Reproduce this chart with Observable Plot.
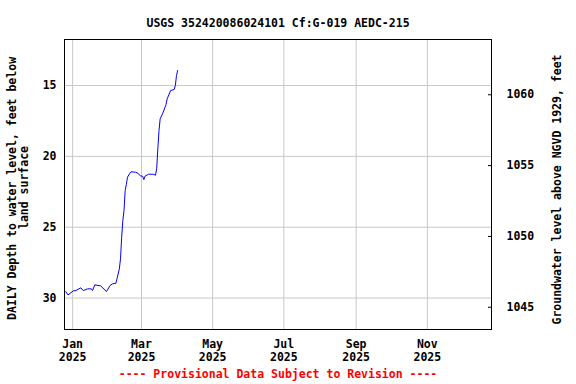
<!DOCTYPE html>
<html>
<head>
<meta charset="utf-8">
<script src="https://cdn.jsdelivr.net/npm/d3@7"></script>
<script src="https://cdn.jsdelivr.net/npm/@observablehq/plot@0.6"></script>
<style>
  html, body { margin: 0; padding: 0; background: #fff; }
</style>
</head>
<body>
<div id="chart"></div>
<script>
// ---- data ----
const title = "USGS 352420086024101 Cf:G-019 AEDC-215";
const leftLabel1 = "DAILY Depth to water level, feet below";
const leftLabel2 = "land surface";
const rightLabel = "Groundwater level above NGVD 1929, feet";
const footer = "---- Provisional Data Subject to Revision ----";

const dates = [
  "2024-12-26","2024-12-28","2025-01-02","2025-01-03","2025-01-08","2025-01-10",
  "2025-01-14","2025-01-17","2025-01-18","2025-01-20","2025-01-25","2025-01-30",
  "2025-02-02","2025-02-04","2025-02-07","2025-02-08","2025-02-10","2025-02-11",
  "2025-02-12","2025-02-13","2025-02-14","2025-02-15","2025-02-16","2025-02-17",
  "2025-02-19","2025-02-20","2025-02-24","2025-02-26","2025-02-28","2025-03-02",
  "2025-03-03","2025-03-04","2025-03-07","2025-03-11","2025-03-13","2025-03-14",
  "2025-03-15","2025-03-16","2025-03-17","2025-03-19","2025-03-21","2025-03-22",
  "2025-03-23","2025-03-26","2025-03-29","2025-03-30","2025-03-31","2025-04-01"
];
const depths = [
  29.54,29.78,29.47,29.50,29.28,29.47,
  29.35,29.35,29.47,29.07,29.14,29.54,
  29.12,29.00,28.96,28.64,27.94,27.23,
  25.71,24.53,23.82,22.41,21.99,21.47,
  21.19,21.09,21.12,21.19,21.38,21.40,
  21.64,21.40,21.26,21.26,21.33,20.88,
  19.47,18.18,17.35,17.00,16.57,16.34,
  15.94,15.35,15.28,15.00,14.29,13.94
];

const xTicks = ["2025-01-01","2025-03-01","2025-05-01","2025-07-01","2025-09-01","2025-11-01"];
const depthTicks = [15, 20, 25, 30];
const elevTicks = [1045, 1050, 1055, 1060];
const landSurface = 1075.65; // elevation = landSurface - depth
const xDomain = ["2024-12-25", "2025-12-26"];
const yDomain = [11.75, 32.22];

// ---- build ----
const parse = d3.utcParse("%Y-%m-%d");
const data = dates.map((d, i) => ({date: parse(d), depth: depths[i]}));
const fmtMon = d3.utcFormat("%b");
const fmtYr = d3.utcFormat("%Y");

const chart = Plot.plot({
  width: 576,
  height: 384,
  marginLeft: 64,
  marginRight: 85,
  marginTop: 39,
  marginBottom: 55,
  style: {
    fontFamily: "'DejaVu Sans Mono', monospace",
    fontSize: "11.5px",
    fontWeight: "bold",
    background: "#fff",
    color: "#000"
  },
  x: {type: "utc", domain: xDomain.map(parse)},
  y: {domain: yDomain, reverse: true},
  marks: [
    Plot.gridX(xTicks.map(parse), {stroke: "#c8c8c8", strokeOpacity: 1}),
    Plot.gridY(depthTicks, {stroke: "#c8c8c8", strokeOpacity: 1}),
    Plot.axisX({
      ticks: xTicks.map(parse),
      tickSize: 0,
      tickPadding: 10,
      lineHeight: 1.1,
      tickFormat: d => fmtMon(d) + "\n" + fmtYr(d),
      label: null
    }),
    Plot.axisY({
      anchor: "left",
      ticks: depthTicks,
      tickSize: 0,
      tickPadding: 8,
      label: null
    }),
    Plot.axisY({
      anchor: "right",
      ticks: elevTicks.map(e => landSurface - e),
      tickFormat: d => String(Math.round(landSurface - d)),
      tickSize: 4,
      insetRight: 4,
      tickPadding: 15,
      label: null
    }),
    Plot.line(data, {x: "date", y: "depth", stroke: "#0000ff", strokeWidth: 1, curve: "linear"}),
    Plot.frame({stroke: "#000"}),
    Plot.text([title], {frameAnchor: "top", dy: -21, text: d => d, fill: "#000"}),
    Plot.text([leftLabel1], {frameAnchor: "left", textAnchor: "middle", dx: -52, dy: 4, rotate: -90, text: d => d, fill: "#000"}),
    Plot.text([leftLabel2], {frameAnchor: "left", textAnchor: "middle", dx: -40, dy: 3, rotate: -90, text: d => d, fill: "#000"}),
    Plot.text([rightLabel], {frameAnchor: "right", textAnchor: "middle", dx: 66, dy: 5, rotate: -90, text: d => d, fill: "#000"}),
    Plot.text([footer], {frameAnchor: "bottom", dy: 48, text: d => d, fill: "#ff0000"})
  ]
});
document.getElementById("chart").appendChild(chart);
</script>
</body>
</html>
